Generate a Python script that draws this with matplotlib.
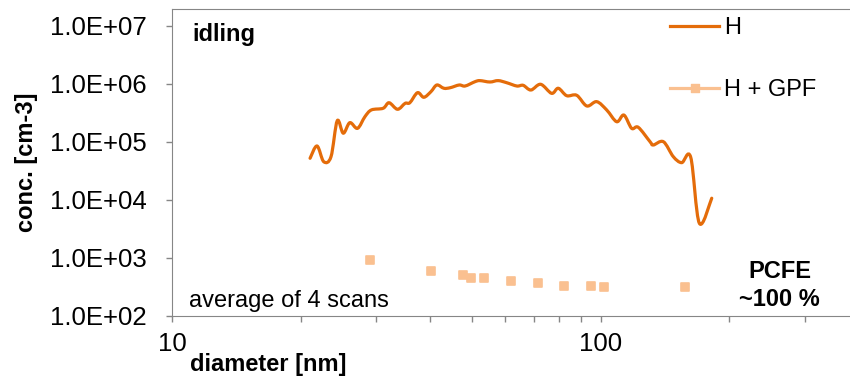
import numpy as np
import matplotlib.pyplot as plt
from matplotlib.lines import Line2D
from matplotlib.markers import MarkerStyle
from matplotlib.patches import PathPatch
from matplotlib.path import Path
from matplotlib.ticker import FixedLocator, FuncFormatter, LogLocator, NullFormatter

plt.rcParams['font.family'] = ['Liberation Sans', 'DejaVu Sans']

# Size distribution, idling, engine only (H)
h_diam = [21.0, 21.8, 22.6, 23.5, 24.3, 25.1, 26.0, 27.1, 28.2, 29.2,
          31.1, 32.1, 33.6, 35.0, 35.9, 37.4, 38.7, 40.2, 41.5, 43.1,
          44.6, 46.8, 48.3, 50.9, 52.3, 55.2, 57.7, 60.4, 63.8, 66.0,
          68.8, 72.5, 76.9, 79.7, 83.4, 88.0, 92.9, 98.0, 103.4, 109.1,
          113.4, 118.2, 122.5, 130.5, 132.8, 140.2, 147.9, 154.7, 162.4, 170.1,
          181.8]
h_conc = [5.18e4, 8.44e4, 4.52e4, 5.51e4, 2.30e5, 1.40e5, 2.13e5, 1.70e5, 2.70e5, 3.53e5,
          3.77e5, 4.70e5, 3.62e5, 4.59e5, 4.70e5, 7.00e5, 5.83e5, 7.28e5, 9.50e5, 8.34e5,
          8.53e5, 9.50e5, 9.12e5, 1.08e6, 1.13e6, 1.07e6, 1.13e6, 1.04e6, 9.12e5, 9.38e5,
          7.78e5, 9.77e5, 6.82e5, 8.34e5, 6.21e5, 6.31e5, 4.13e5, 4.90e5, 3.52e5, 2.21e5,
          2.88e5, 1.70e5, 1.77e5, 1.00e5, 8.77e4, 1.00e5, 5.51e4, 4.35e4, 5.38e4, 3.92e3,
          1.06e4]

# Behind the gasoline particle filter (H + GPF)
gpf_diam = [29.0, 40.2, 47.8, 49.8, 53.6, 61.8, 71.3, 82.2, 94.9, 102.1, 157.8]
gpf_conc = [913, 597, 503, 452, 452, 397, 362, 329, 329, 316, 316]

line_color = '#E46C0A'
marker_color = '#FAC090'
axis_color = '#868686'


def smooth_path(x, y):
    # Catmull-Rom through the points, built in log space so it stays smooth on log axes
    p = np.column_stack([np.log10(x), np.log10(y)])
    p = np.vstack([p[0], p, p[-1]])
    verts = [p[1]]
    codes = [Path.MOVETO]
    for i in range(1, len(p) - 2):
        c1 = p[i] + (p[i + 1] - p[i - 1]) / 6
        c2 = p[i + 1] - (p[i + 2] - p[i]) / 6
        verts += [c1, c2, p[i + 1]]
        codes += [Path.CURVE4] * 3
    return Path(10 ** np.array(verts), codes)


W, H = 850, 378
fig = plt.figure(figsize=(W / 100, H / 100), dpi=100)
ax = fig.add_axes([172 / W, 1 - 315.7 / H, 1 - 172 / W, (315.7 - 9) / H])

ax.add_patch(PathPatch(smooth_path(h_diam, h_conc), fill=False, edgecolor=line_color,
                       lw=2.3, joinstyle='round', capstyle='round'))
sq = MarkerStyle('s', joinstyle='round')
ax.plot(gpf_diam, gpf_conc, ls='none', marker=sq, ms=6.2, mfc=marker_color,
        mec=marker_color, mew=1.2)

ax.set_xscale('log')
ax.set_yscale('log')
ax.set_xlim(10, 10 ** (1 + (W - 172) / 428.5))
ax.set_ylim(1e2, 10 ** (2 + 306.7 / 58))

ax.xaxis.set_major_locator(FixedLocator([10, 100]))
ax.xaxis.set_major_formatter(FuncFormatter(lambda v, p: f'{v:.0f}'))
ax.xaxis.set_minor_locator(LogLocator(base=10, subs=range(2, 10)))
ax.xaxis.set_minor_formatter(NullFormatter())
ax.yaxis.set_major_locator(FixedLocator([1e2, 1e3, 1e4, 1e5, 1e6, 1e7]))
ax.yaxis.set_major_formatter(FuncFormatter(lambda v, p: f'{v:.1E}'))
ax.yaxis.set_minor_locator(LogLocator(base=10, subs=range(2, 10)))
ax.yaxis.set_minor_formatter(NullFormatter())

ax.tick_params(axis='both', which='both', color=axis_color, width=1)
ax.tick_params(axis='y', which='major', direction='out', length=4.5, pad=13.5, labelsize=18.5)
ax.tick_params(axis='y', which='minor', direction='in', length=5)
ax.tick_params(axis='x', which='both', direction='out', length=4.5, pad=7, labelsize=18.5)

for side in ['left', 'bottom', 'top']:
    ax.spines[side].set_color(axis_color)
ax.spines['right'].set_visible(False)


def px(x, y):
    return x / W, 1 - y / H


fig.text(*px(26, 162.5), 'conc. [cm-3]', rotation=90, ha='center', va='center',
         fontsize=17, fontweight='bold')
fig.text(*px(268.5, 370.7), 'diameter [nm]', ha='center', va='baseline',
         fontsize=17, fontweight='bold')
fig.text(*px(192, 40.7), 'idling', va='baseline', fontsize=17, fontweight='bold')
fig.text(*px(189, 307.3), 'average of 4 scans', va='baseline', fontsize=17)
fig.text(*px(780, 278), 'PCFE', ha='center', va='baseline', fontsize=17, fontweight='bold')
fig.text(*px(779, 306), '~100 %', ha='center', va='baseline', fontsize=17, fontweight='bold')

handles = [
    Line2D([], [], color=line_color, lw=2.3),
    Line2D([], [], color=marker_color, lw=2.3, marker=sq, ms=6.2, mfc=marker_color,
           mec=marker_color),
]
fig.legend(handles, ['H', 'H + GPF'], loc='upper left', bbox_to_anchor=px(670, 17),
           frameon=False, fontsize=17, handlelength=2.08, handletextpad=0.2,
           labelspacing=1.7, borderpad=0, borderaxespad=0)

fig.savefig('out.png', dpi=100)
